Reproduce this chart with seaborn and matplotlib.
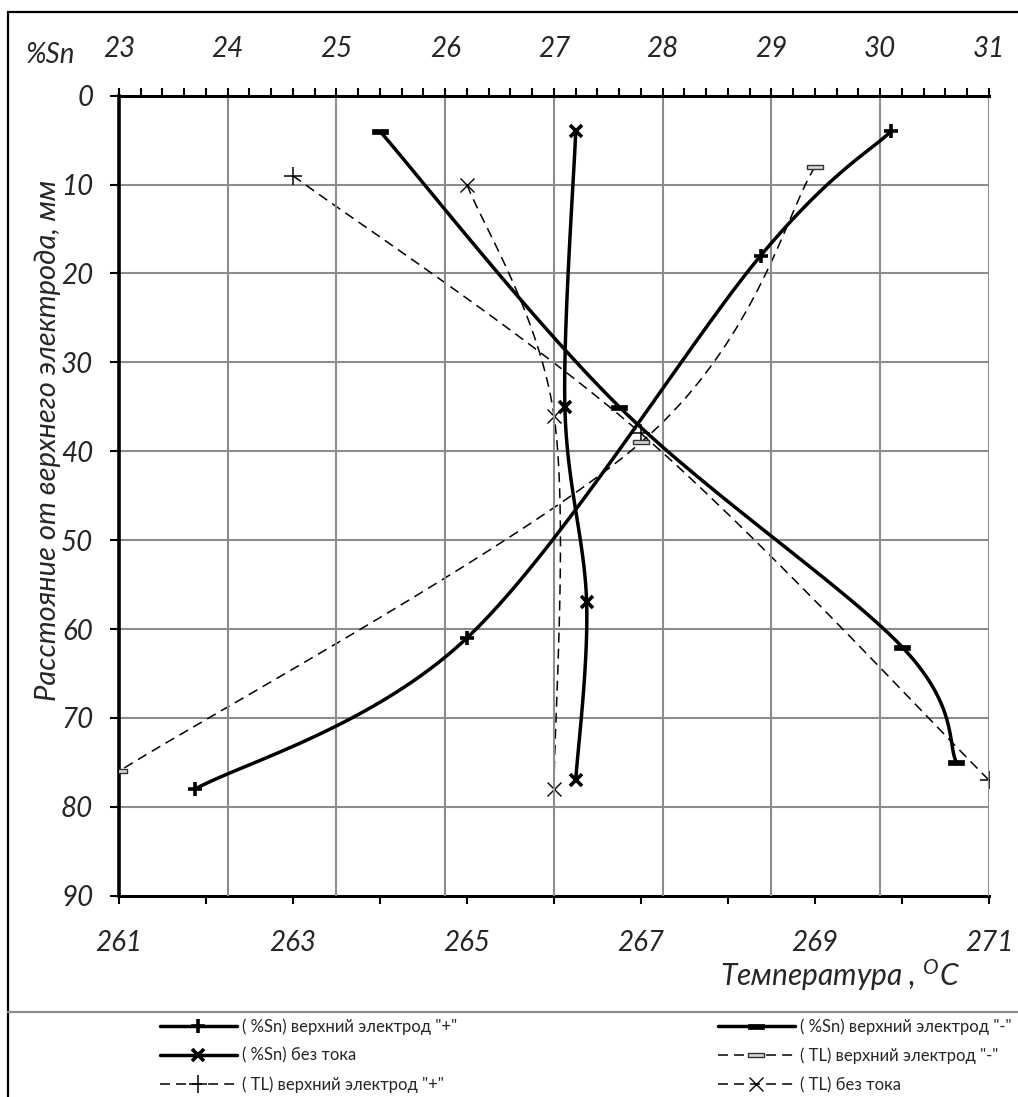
import numpy as np
import matplotlib
matplotlib.use("Agg")
import matplotlib.pyplot as plt
import matplotlib.path as mpath
from matplotlib.lines import Line2D
from matplotlib.patches import Rectangle
import seaborn as sns
import pandas as pd

# ---------------- data ----------------
sn_plus_sn = [30.1, 28.9, 26.2, 23.7]
sn_plus_d = [4, 18, 61, 78]
sn_minus_sn = [25.4, 27.6, 30.2, 30.7]
sn_minus_d = [4, 35, 62, 75]
sn_none_sn = [27.2, 27.1, 27.3, 27.2]
sn_none_d = [4, 35, 57, 77]
tl_minus_t = [269, 267, 261]
tl_minus_d = [8, 39, 76]
tl_plus_t = [263, 267, 271]
tl_plus_d = [9, 38, 77]
tl_none_t = [265, 266, 266]
tl_none_d = [10, 36, 78]

labels = ['( %Sn) верхний электрод "+"', '( %Sn) без тока', '( TL) верхний электрод "+"',
          '( %Sn) верхний электрод "-"', '( TL) верхний электрод "-"', '( TL) без тока']
temp_ticks = list(range(261, 272))
temp_labels = [str(t) if t % 2 == 1 else '' for t in temp_ticks]
sn_ticks = list(range(23, 32))
d_ticks = list(range(0, 100, 10))

# ---------------- style ----------------
sns.set_theme(style="white")
plt.rcParams['font.family'] = ['Lato', 'DejaVu Sans']
plt.rcParams['mathtext.fontset'] = 'custom'
plt.rcParams['mathtext.rm'] = 'Lato'
plt.rcParams['mathtext.it'] = 'Lato:italic'

W, H = 1018, 1097
fig = plt.figure(figsize=(W / 100, H / 100), dpi=100)
fig.patch.set_facecolor('white')

L, R, T, B = 119, 989, 95.7, 895.7
ax = fig.add_axes([L / W, 1 - B / H, (R - L) / W, (B - T) / H])
ax2 = ax.twiny()

ax.set_xlim(261, 271)
ax.set_ylim(90, 0)
ax2.set_xlim(23, 31)
ax2.set_ylim(90, 0)

# pixel scales for smoothing
px_t = (R - L) / 10.0
px_s = (R - L) / 8.0
px_d = (B - T) / 90.0


def smooth(xs, ys, sx, sy, n=40):
    P = np.column_stack([np.asarray(xs, float) * sx, np.asarray(ys, float) * sy])
    out = []
    for i in range(len(P) - 1):
        p0 = P[i - 1] if i > 0 else P[i]
        p1, p2 = P[i], P[i + 1]
        p3 = P[i + 2] if i + 2 < len(P) else P[i + 1]
        c1 = p1 + (p2 - p0) / 6.0
        c2 = p2 - (p3 - p1) / 6.0
        t = np.linspace(0, 1, n)[:, None]
        b = (1 - t) ** 3 * p1 + 3 * (1 - t) ** 2 * t * c1 + 3 * (1 - t) * t ** 2 * c2 + t ** 3 * p2
        out.append(b if i == 0 else b[1:])
    out = np.vstack(out)
    return out[:, 0] / sx, out[:, 1] / sy


bar = mpath.Path([(-1, -0.3), (1, -0.3), (1, 0.3), (-1, 0.3), (-1, -0.3)], closed=True)
bar2 = mpath.Path([(-1, -0.22), (1, -0.22), (1, 0.22), (-1, 0.22), (-1, -0.22)], closed=True)

thick = 2.5
thin = 1.1
dash = (6.5, 4)

styles = {
    0: dict(marker='+', ms=10, mew=2.6, mfc='black', mec='black'),
    1: dict(marker='x', ms=9, mew=2.6, mfc='black', mec='black'),
    2: dict(marker='+', ms=13, mew=1.1, mfc='black', mec='black'),
    3: dict(marker=bar, ms=12, mew=0.5, mfc='black', mec='black'),
    4: dict(marker=bar2, ms=11, mew=1.0, mfc='#d8d8d8', mec='#333333'),
    5: dict(marker='x', ms=10, mew=1.0, mfc='black', mec='black'),
}

series = [
    (ax2, sn_plus_sn, sn_plus_d, px_s, 0, True),
    (ax2, sn_none_sn, sn_none_d, px_s, 1, True),
    (ax, tl_plus_t, tl_plus_d, px_t, 2, False),
    (ax2, sn_minus_sn, sn_minus_d, px_s, 3, True),
    (ax, tl_minus_t, tl_minus_d, px_t, 4, False),
    (ax, tl_none_t, tl_none_d, px_t, 5, False),
]

for a, xs, ds, sx, k, solid in series:
    cx, cy = smooth(xs, ds, sx, px_d)
    df = pd.DataFrame({'x': cx, 'y': cy})
    if solid:
        sns.lineplot(data=df, x='x', y='y', ax=a, sort=False, estimator=None,
                     color='black', lw=thick, zorder=4)
    else:
        ln = sns.lineplot(data=df, x='x', y='y', ax=a, sort=False, estimator=None,
                          color='black', lw=thin, zorder=3)
        ln.lines[-1].set_dashes(dash)
    a.plot(xs, ds, ls='none', zorder=5, **styles[k])

for a in (ax, ax2):
    a.set_xlabel('')
    a.set_ylabel('')

ax.set_xlim(261, 271)
ax.set_ylim(90, 0)
ax2.set_xlim(23, 31)
ax2.set_ylim(90, 0)

# grid
ax.grid(False)
ax2.grid(False)
for s in sn_ticks[1:]:
    ax2.axvline(s, color='#8c8c8c', lw=1.5, zorder=1)
for d in d_ticks[1:-1]:
    ax.axhline(d, color='#8c8c8c', lw=1.5, zorder=1)

# spines
for a in (ax, ax2):
    for sp in a.spines.values():
        sp.set_visible(False)
ax.spines['left'].set_visible(True)
ax.spines['left'].set_linewidth(2.6)
ax.spines['left'].set_color('black')
ax.spines['bottom'].set_visible(True)
ax.spines['bottom'].set_linewidth(2.2)
ax.spines['bottom'].set_color('black')
ax2.spines['top'].set_visible(True)
ax2.spines['top'].set_linewidth(2.2)
ax2.spines['top'].set_color('black')

# ticks
tickfont = dict(fontsize=20, style='italic')
ax.set_xticks(temp_ticks)
ax.set_xticklabels(temp_labels, **tickfont)
ax.set_yticks(d_ticks)
ax.set_yticklabels([str(d) for d in d_ticks], **tickfont)
ax.tick_params(axis='x', direction='out', length=6, width=1.5, color='black', pad=19,
               bottom=True, top=False)
ax.tick_params(axis='y', direction='out', length=6.5, width=1.5, color='black', pad=12,
               left=True, right=False)
ax2.set_xticks(sn_ticks)
ax2.set_xticklabels([str(s) for s in sn_ticks], **tickfont)
ax2.set_xticks(np.arange(23, 31.01, 0.2), minor=True)
ax2.tick_params(axis='x', which='both', direction='out', length=6, width=1.5,
                color='black', pad=18, top=True, bottom=False)
ax2.tick_params(axis='y', left=False, right=False, labelleft=False, labelright=False)

# texts
fig.text(50 / W, 1 - 55 / H, '%Sn', fontsize=20, style='italic', ha='center', va='center')
fig.text(48 / W, 1 - 440 / H, 'Расстояние от верхнего электрода, мм', fontsize=21,
         style='italic', rotation=90, ha='center', va='center')
fig.text(960 / W, 1 - 975 / H, 'Температура , $^{O}$C', fontsize=21.5, style='italic',
         ha='right', va='center')

# frame and separator
fig.add_artist(Rectangle((8 / W, -0.01), 1.2, 1 - 12 / H + 0.01, transform=fig.transFigure,
                         fill=False, ec='black', lw=1.6))
fig.add_artist(Line2D([8 / W, 1.0], [1 - 1012 / H] * 2, transform=fig.transFigure,
                      color='#8c8c8c', lw=1.6))

# legend
def handle(k):
    solid = k in (0, 1, 3)
    h = Line2D([0], [0], color='black', lw=thick if solid else thin, **styles[k])
    if not solid:
        h.set_dashes(dash)
    return h

for col, x0 in ((0, 160), (1, 718)):
    idx = [0, 1, 2] if col == 0 else [3, 4, 5]
    fig.legend([handle(k) for k in idx], [labels[k] for k in idx],
               loc='upper left', bbox_to_anchor=(x0 / W, 1 - 1018 / H),
               frameon=False, fontsize=12, handlelength=4.6, handletextpad=0.3,
               labelspacing=0.78, borderpad=0, borderaxespad=0)

fig.savefig('out.png', dpi=100, facecolor='white')
